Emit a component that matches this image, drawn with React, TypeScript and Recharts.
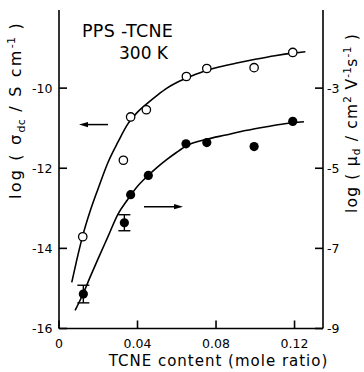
import React from "react";
import {
  ComposedChart,
  Line,
  Scatter,
  XAxis,
  YAxis,
  ErrorBar,
  ReferenceLine,
} from "recharts";

// ─── Data ─────────────────────────────────────────────────────────────────────
// open circles: log(sigma_dc / S cm^-1), left axis
const sigmaContent = [0.0121, 0.0328, 0.0365, 0.0445, 0.0649, 0.0753, 0.0994, 0.1191];
const logSigma = [-13.71, -11.8, -10.72, -10.54, -9.71, -9.51, -9.49, -9.11];

// filled circles: log(mu_d / cm2 V-1 s-1), right axis
const muContent = [0.0124, 0.0333, 0.0365, 0.0455, 0.0647, 0.0753, 0.0994, 0.1191];
const logMu = [-8.14, -6.36, -5.66, -5.18, -4.39, -4.36, -4.46, -3.83];
const muErr = [0.22, 0.2, 0, 0, 0, 0, 0, 0];

// guide curves, traced by eye
const sigmaCurveX = [0.0065, 0.009, 0.012, 0.016, 0.02, 0.025, 0.03, 0.035, 0.04, 0.045, 0.05, 0.055, 0.06, 0.065, 0.07, 0.075, 0.08, 0.09, 0.1, 0.11, 0.12, 0.1255];
const sigmaCurveY = [-14.85, -14.3, -13.7, -13.05, -12.5, -11.85, -11.35, -10.9, -10.6, -10.38, -10.18, -10.0, -9.86, -9.75, -9.65, -9.56, -9.49, -9.38, -9.28, -9.19, -9.12, -9.09];

const muCurveX = [0.0082, 0.0124, 0.016, 0.02, 0.025, 0.03, 0.035, 0.04, 0.045, 0.05, 0.055, 0.06, 0.065, 0.075, 0.085, 0.095, 0.105, 0.115, 0.1248];
const muCurveY = [-8.55, -8.12, -7.7, -7.25, -6.7, -6.15, -5.78, -5.45, -5.2, -4.98, -4.78, -4.6, -4.44, -4.28, -4.17, -4.06, -3.97, -3.89, -3.84];

const xTicks = [0, 0.04, 0.08, 0.12];
const leftTicks = [-16, -14, -12, -10];
const rightTicks = [-9, -7, -5, -3];

const sigmaPoints = sigmaContent.map((x, i) => ({ x, y: logSigma[i] }));
const muPoints = muContent.map((x, i) => ({ x, y: logMu[i], err: muErr[i] }));
const sigmaCurve = sigmaCurveX.map((x, i) => ({ x, y: sigmaCurveY[i] }));
const muCurve = muCurveX.map((x, i) => ({ x, y: muCurveY[i] }));

const FONT = "'DejaVu Sans', sans-serif";
const tickStyle = { fill: "#000", fontSize: 12.5, fontFamily: FONT };
const axisStroke = { stroke: "#000", strokeWidth: 1.6 };

const OpenDot = (p: any) => (
  <circle cx={p.cx} cy={p.cy} r={4.2} fill="#fff" stroke="#000" strokeWidth={1.3} />
);
const FilledDot = (p: any) => <circle cx={p.cx} cy={p.cy} r={4.6} fill="#000" />;

const Arrow = (p: any) => {
  const { x1, y1, x2, y2 } = p;
  const dir = x2 > x1 ? 1 : -1;
  return (
    <g>
      <line x1={x1} y1={y1} x2={x2 - dir * 6} y2={y2} stroke="#000" strokeWidth={1.5} />
      <polygon
        points={`${x2},${y2} ${x2 - dir * 9},${y2 - 2.6} ${x2 - dir * 9},${y2 + 2.6}`}
        fill="#000"
      />
    </g>
  );
};

export default function App() {
  return (
    <div style={{ position: "absolute", left: 0, top: 0, background: "#fff" }}>
      <ComposedChart
        width={364}
        height={372}
        margin={{ top: 10, right: 0, bottom: 0, left: 0 }}
        style={{ fontFamily: FONT }}
      >
        <XAxis
          dataKey="x"
          type="number"
          domain={[0, 0.1345]}
          ticks={xTicks}
          allowDataOverflow
          height={43.5}
          tickSize={-8}
          tickMargin={18.5}
          tick={tickStyle}
          axisLine={axisStroke}
          tickLine={axisStroke}
        />
        <XAxis
          xAxisId="top"
          orientation="top"
          dataKey="x"
          type="number"
          domain={[0, 0.1345]}
          height={0}
          tick={false}
          tickLine={false}
          axisLine={axisStroke}
        />
        <YAxis
          yAxisId="left"
          type="number"
          domain={[-16, -8.05]}
          ticks={leftTicks}
          allowDataOverflow
          width={59}
          tickSize={-8}
          tickMargin={14.5}
          tick={tickStyle}
          axisLine={axisStroke}
          tickLine={axisStroke}
        />
        <YAxis
          yAxisId="right"
          orientation="right"
          type="number"
          domain={[-9, -1.05]}
          ticks={rightTicks}
          allowDataOverflow
          width={41}
          tickSize={-8}
          tickMargin={12}
          tick={tickStyle}
          axisLine={axisStroke}
          tickLine={axisStroke}
        />

        <Line
          yAxisId="left"
          data={sigmaCurve}
          dataKey="y"
          type="monotone"
          stroke="#000"
          strokeWidth={1.6}
          dot={false}
          isAnimationActive={false}
        />
        <Line
          yAxisId="right"
          data={muCurve}
          dataKey="y"
          type="monotone"
          stroke="#000"
          strokeWidth={1.6}
          dot={false}
          isAnimationActive={false}
        />
        <Scatter
          yAxisId="left"
          data={sigmaPoints}
          dataKey="y"
          shape={OpenDot}
          isAnimationActive={false}
        />
        <Scatter
          yAxisId="right"
          data={muPoints}
          dataKey="y"
          shape={FilledDot}
          isAnimationActive={false}
        >
          <ErrorBar dataKey="err" direction="y" width={6} stroke="#000" strokeWidth={1.4} />
        </Scatter>

        <ReferenceLine
          yAxisId="left"
          segment={[{ x: 0.025, y: -10.91 }, { x: 0.0102, y: -10.91 }]}
          shape={Arrow}
        />
        <ReferenceLine
          yAxisId="left"
          segment={[{ x: 0.0433, y: -12.96 }, { x: 0.0632, y: -12.96 }]}
          shape={Arrow}
        />

        <text x={82} y={36.5} fontSize={17.5} fontFamily={FONT} letterSpacing={0.3}>
          PPS -TCNE
        </text>
        <text x={119} y={59} fontSize={17} fontFamily={FONT}>
          300 K
        </text>

        <text
          transform="translate(21,110) rotate(-90)"
          textAnchor="middle"
          fontSize={16}
          fontFamily={FONT}
          letterSpacing={2.2}
        >
          log ( σ<tspan dy={4} fontSize={11} letterSpacing={0.3}>dc</tspan>
          <tspan dy={-4} letterSpacing={2.2}> / S cm</tspan>
          <tspan dy={-6} fontSize={11} letterSpacing={0.3}>-1</tspan>
          <tspan dy={6} letterSpacing={2.2}> )</tspan>
        </text>
        <text
          transform="translate(356.5,123) rotate(-90)"
          textAnchor="middle"
          fontSize={15.5}
          fontFamily={FONT}
          letterSpacing={1.2}
        >
          log ( μ<tspan dy={3.5} fontSize={10.5}>d</tspan>
          <tspan dy={-3.5}> / cm</tspan>
          <tspan dy={-6} fontSize={10.5} letterSpacing={0.3}>2</tspan>
          <tspan dy={6}> V</tspan>
          <tspan dy={-6} fontSize={10.5} letterSpacing={0.3}>-1</tspan>
          <tspan dy={6}>s</tspan>
          <tspan dy={-6} fontSize={10.5} letterSpacing={0.3}>-1</tspan>
          <tspan dy={6}> )</tspan>
        </text>
        <text x={218.5} y={366} textAnchor="middle" fontSize={15} fontFamily={FONT} letterSpacing={1}>
          TCNE content (mole ratio)
        </text>
      </ComposedChart>
    </div>
  );
}
